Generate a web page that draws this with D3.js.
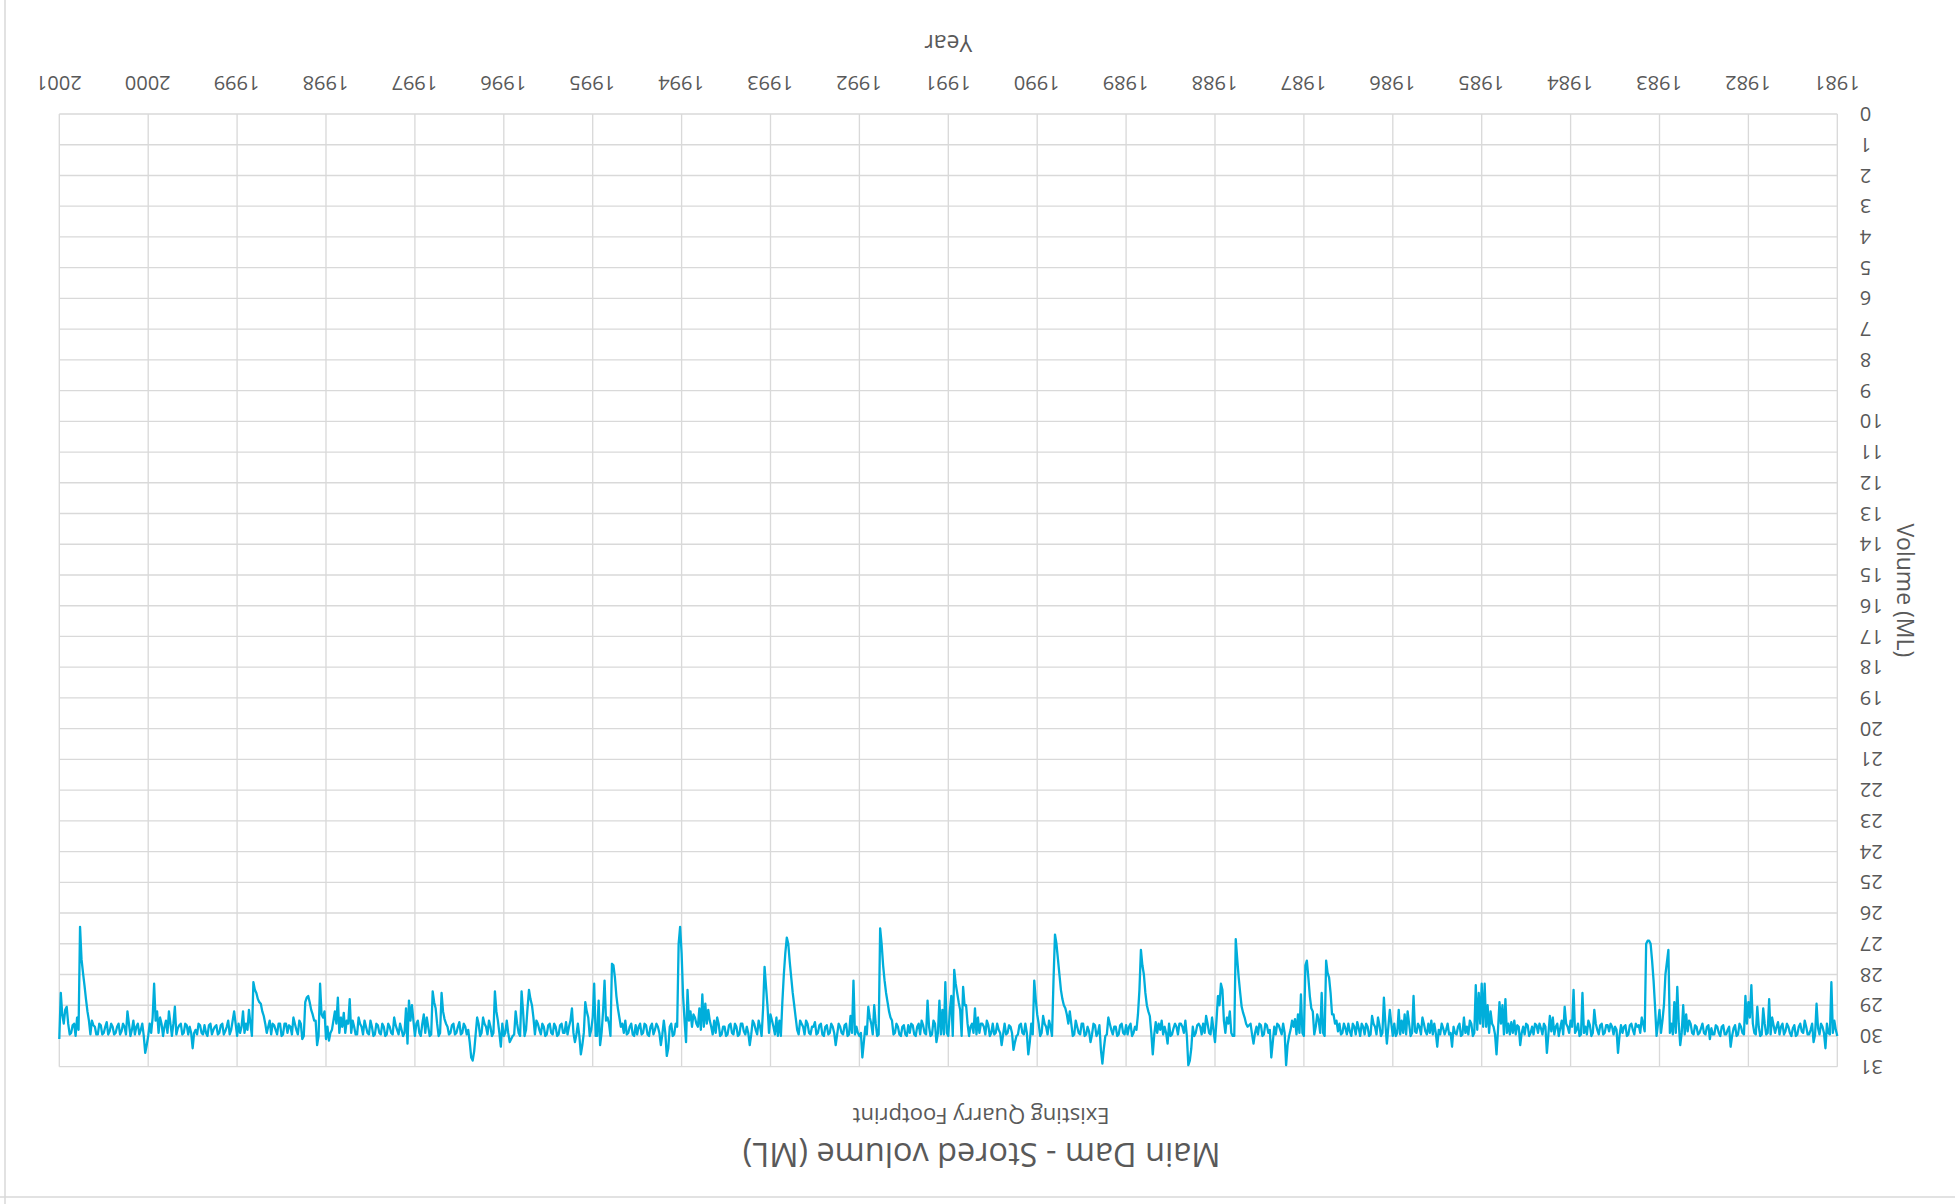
<!DOCTYPE html>
<html><head><meta charset="utf-8">
<script src="https://cdn.jsdelivr.net/npm/d3@7"></script>
<style>html,body{margin:0;padding:0;background:#fff;} svg{display:block;}</style>
</head><body>
<svg id="chart" width="1955" height="1204"></svg>
<script>
// ---- Data ----
const chartTitle = "Main Dam - Stored volume (ML)";
const chartSubtitle = "Existing Quarry Footprint";
const xAxisTitle = "Year";
const yAxisTitle = "Volume (ML)";
const yearTicks = [1981,1982,1983,1984,1985,1986,1987,1988,1989,1990,1991,1992,1993,1994,1995,1996,1997,1998,1999,2000,2001];
const volumeTicks = [0,1,2,3,4,5,6,7,8,9,10,11,12,13,14,15,16,17,18,19,20,21,22,23,24,25,26,27,28,29,30,31];
const samplesPerYear = 30;

// readings at year + k/30
const vol1981 = [30.0,29.5,28.25,29.9,30.4,29.7,29.95,28.95,30.2,29.8,29.95,29.5,29.85,29.7,30.0,29.75,29.9,29.6,29.95,29.7,29.55,29.9,29.4,28.8,29.95,29.1,30.0,29.05,29.9,28.35];
const vol1982 = [28.9,28.7,29.9,29.6,30.0,29.75,30.35,29.8,29.95,29.7,29.9,29.65,29.95,30.1,29.7,29.9,29.75,29.95,29.65,29.9,29.5,29.3,29.0,30.3,28.4,28.9,29.6,27.2,28.0,29.5];
const vol1983 = [29.15,30.0,28.2,27.0,26.9,29.85,29.4,29.65,29.6,29.8,29.65,30.0,29.7,29.65,30.55,29.7,29.7,29.85,29.65,29.95,29.65,29.8,29.15,30.0,29.5,29.7,28.6,30.0,29.8,28.5];
const vol1984 = [29.5,29.7,29.05,29.5,30.0,29.7,29.4,29.35,30.55,29.6,29.75,29.9,29.6,29.7,30.0,29.6,29.7,30.3,29.65,29.5,29.55,29.6,28.8,29.0,28.9,30.6,29.7,29.2,29.0,28.3];
const vol1985 = [28.3,28.6,28.35,30.0,29.5,29.7,29.4,30.0,29.7,29.9,30.35,29.95,29.8,29.75,29.95,30.35,29.6,29.5,29.6,29.85,29.4,29.7,29.9,28.7,30.0,29.2,29.3,29.5,29.15,30.0];
const vol1986 = [30.0,29.15,30.25,28.75,30.0,29.4,29.7,29.35,30.0,29.6,29.7,30.0,29.55,29.7,30.0,29.6,29.75,29.9,29.6,29.5,29.3,28.6,27.95,30.0,28.6,29.5,29.7,29.2,28.7,27.55];
const vol1987 = [30.0,28.65,29.3,29.45,29.5,30.0,30.95,29.6,29.8,29.6,29.7,30.7,29.9,29.6,30.0,29.6,29.7,30.25,29.6,29.7,29.4,29.05,28.1,26.85,30.0,29.2,29.4,29.5,28.3,28.7];
const vol1988 = [30.2,29.4,29.9,29.35,29.6,29.7,29.65,30.0,30.4,30.95,29.5,29.7,29.6,29.7,29.75,30.0,30.25,29.7,29.5,29.6,29.55,30.6,29.35,29.0,28.0,27.2,29.3,29.7,30.0,29.7];
const vol1989 = [29.65,29.9,29.65,30.0,29.7,29.8,29.4,30.0,30.9,29.65,30.0,29.6,30.2,29.7,30.0,29.6,29.9,29.5,30.0,29.2,29.3,29.0,28.5,27.5,26.7,30.0,29.5,29.7,29.35,30.0];
const vol1990 = [29.3,28.2,29.6,30.6,29.6,29.9,29.65,30.0,30.45,29.7,29.9,29.6,30.3,29.8,29.9,29.6,30.0,29.5,29.7,29.6,29.4,29.1,29.6,30.0,29.0,28.4,29.15,28.6,27.85,28.7];
const vol1991 = [30.0,28.25,29.15,28.85,30.2,29.5,30.0,28.85,29.9,29.5,29.6,30.0,29.65,29.9,30.0,29.65,30.0,29.7,29.9,29.5,29.2,28.6,27.7,26.5,30.0,29.0,29.6,29.05,29.7,30.7];
const vol1992 = [30.0,29.7,28.2,29.35,30.0,29.65,29.9,29.6,30.3,29.7,29.9,29.65,30.0,29.6,29.9,29.55,29.7,29.9,29.5,29.7,29.5,29.8,29.0,28.1,27.0,27.3,28.9,29.5,29.4,29.7];
const vol1993 = [29.3,29.05,27.75,30.0,29.5,29.8,29.5,30.3,29.7,29.85,29.6,30.0,29.6,29.9,29.65,30.0,29.7,30.0,29.4,29.5,29.7,29.15,28.95,28.65,29.1,29.6,29.3,29.2,28.5,29.5];
const vol1994 = [27.3,27.0,29.6,30.0,29.7,30.65,29.5,30.3,29.7,29.8,29.6,30.0,29.65,29.9,29.6,29.95,30.0,29.6,29.9,29.5,29.6,29.4,28.7,27.7,30.0,29.4,28.2,29.9,28.85,30.0];
const vol1995 = [29.4,30.0,29.2,29.9,30.6,29.6,30.2,29.1,29.7,29.55,29.9,29.65,30.0,29.6,29.9,29.65,30.0,29.6,29.8,29.5,29.4,28.8,29.1,30.0,28.55,29.9,29.2,30.0,30.2,29.5];
const vol1996 = [30.0,30.35,29.5,28.55,30.0,29.5,29.7,29.4,30.0,29.4,30.5,30.7,29.8,29.7,29.9,29.55,29.9,29.6,29.9,29.7,29.45,28.6,30.0,29.1,28.55,30.0,29.4,29.3,30.0,29.5];
const vol1997 = [30.0,29.0,28.85,29.1,30.0,29.6,29.8,29.4,29.9,29.6,30.0,29.6,29.9,29.6,30.0,29.5,29.9,29.5,29.7,29.4,29.95,29.5,28.8,29.5,29.25,29.4,28.75,29.2,29.8,30.15];
const vol1998 = [30.1,29.4,28.3,30.3,29.5,29.15,28.7,28.9,30.1,29.5,29.8,29.4,29.7,29.9,29.6,30.0,29.6,29.8,29.6,29.5,29.9,29.35,28.95,28.8,28.5,30.0,29.15,29.6,29.2,29.9];
const vol1999 = [30.0,29.2,29.8,29.5,29.85,29.6,29.9,29.65,29.8,29.6,30.0,29.65,29.9,29.6,29.8,30.4,29.7,29.65,29.9,29.6,29.75,29.05,30.0,29.2,29.5,30.0,29.4,29.2,28.3,29.9];
const vol2000 = [30.0,30.55,29.6,29.95,29.7,29.5,30.0,29.2,29.7,29.85,29.6,29.9,29.7,29.85,29.55,29.9,29.65,29.95,29.7,29.5,29.5,28.8,27.95,26.45,29.4,29.6,29.9,29.6,29.15,29.3];
const volEnd2001 = 30.1;

// readings half-way between the above, at year + (k + 0.5)/30
const mid1981 = [29.8,29.9,29.95,29.6,29.9,29.6,29.75,29.95,29.6,29.95,29.7,29.9,29.6,29.95,29.65,30.0,29.7,29.85,29.6,29.95,29.7,29.65,29.95,29.9,29.6,29.95,29.7,29.95,29.6,29.4];
const mid1982 = [29.6,29.95,29.7,29.95,29.65,30.0,29.7,29.95,29.65,30.0,29.7,29.95,29.75,29.65,29.95,29.6,29.9,29.7,29.95,29.6,29.85,29.95,29.9,29.6,29.9,29.95,29.9,27.6,29.0,29.9];
const mid1983 = [29.6,29.05,27.55,26.9,27.0,29.6,29.9,29.7,29.95,29.6,29.95,29.65,29.9,30.0,29.8,29.95,29.6,29.65,29.9,29.6,29.95,29.6,29.9,29.65,29.95,29.9,29.95,29.6,29.9,29.7];
const mid1984 = [29.9,29.6,29.95,29.75,29.6,29.95,29.85,29.95,29.7,29.95,29.6,29.65,29.95,29.9,29.65,29.95,29.9,29.7,29.95,29.9,29.95,29.9,29.95,29.6,29.8,29.95,29.6,29.9,29.7,29.7];
const mid1985 = [29.6,29.8,29.9,29.6,29.95,29.9,29.95,29.6,29.95,29.7,29.9,29.6,29.95,29.6,29.8,29.9,29.95,29.9,29.95,29.6,29.95,29.6,29.85,29.9,29.6,29.95,29.9,29.95,29.9,29.6];
const mid1986 = [29.6,29.7,29.6,29.9,29.65,29.95,29.6,29.95,29.7,29.95,29.6,29.75,29.95,29.6,29.85,29.95,29.6,29.95,29.85,29.6,29.3,28.1,27.55,29.9,29.9,29.3,29.95,29.1,28.1,27.7];
const mid1987 = [29.9,29.9,29.95,29.7,29.8,30.3,29.9,29.95,29.65,29.95,30.2,29.8,29.65,29.95,29.65,29.95,29.9,29.95,29.65,29.6,29.25,28.6,27.5,30.0,29.9,29.6,29.9,28.5,29.0,29.5];
const mid1988 = [29.8,29.95,29.6,29.9,29.95,29.6,29.9,29.7,30.8,30.0,29.9,29.6,29.95,29.6,29.95,29.6,29.9,29.95,29.8,29.9,29.95,29.9,29.2,28.6,27.7,28.5,29.8,29.9,29.6,29.95];
const mid1989 = [29.95,29.6,29.95,29.7,29.95,29.6,29.95,30.4,30.45,29.9,29.65,29.95,29.85,29.95,29.6,29.95,29.7,29.95,29.6,29.6,29.1,28.8,28.0,27.0,28.2,29.7,29.95,29.6,29.9,29.6];
const mid1990 = [28.8,29.95,30.2,29.9,29.95,29.6,29.95,30.2,29.9,29.65,29.95,29.95,29.9,29.6,29.95,29.9,29.65,29.95,29.6,29.9,29.95,29.9,29.7,29.6,29.0,30.0,28.9,28.3,30.0,29.2];
const mid1991 = [29.9,29.95,29.95,29.9,29.6,29.95,29.7,29.95,29.65,29.95,29.7,29.95,29.6,29.65,29.95,29.7,29.95,29.6,29.95,29.4,28.9,28.2,27.0,29.95,29.6,29.95,29.4,29.95,30.2,29.9];
const mid1992 = [29.9,29.95,29.9,29.95,29.6,29.95,29.7,29.95,29.9,29.6,29.95,29.7,29.95,29.65,29.95,29.7,29.95,29.6,29.95,29.6,29.95,29.4,28.6,27.6,26.8,28.0,30.0,30.0,29.95,29.5];
const mid1993 = [29.9,28.4,29.1,29.7,29.95,29.6,29.95,29.9,29.95,29.6,29.95,29.7,29.95,29.6,29.95,29.7,29.95,29.6,29.9,29.95,29.5,29.6,29.7,29.8,29.7,29.4,29.7,29.5,30.2,28.7];
const mid1994 = [26.45,29.7,29.95,29.6,30.4,29.9,29.95,29.9,29.6,29.95,29.7,29.95,29.6,29.95,29.7,29.65,29.95,29.7,29.95,29.9,29.7,29.1,28.1,27.65,29.6,29.5,29.2,30.3,30.0,28.3];
const mid1995 = [29.8,29.4,28.9,30.3,30.0,29.95,29.9,29.5,29.95,29.9,29.6,29.95,29.7,29.95,29.6,29.95,29.7,29.95,29.6,29.95,29.0,28.5,29.8,29.2,30.0,29.6,29.95,30.1,29.9,29.9];
const mid1996 = [29.6,29.9,29.2,29.9,29.7,29.95,29.6,29.9,29.6,29.95,30.8,30.2,29.95,29.6,29.95,29.7,29.95,29.65,29.95,29.6,29.2,29.9,29.6,28.9,29.95,29.7,29.9,29.6,29.9,29.6];
const mid1997 = [29.5,29.5,30.25,29.9,29.8,29.95,29.65,29.95,29.7,29.95,29.7,29.95,29.65,29.95,29.7,29.95,29.7,29.95,29.6,29.95,29.7,29.9,29.6,29.9,29.7,29.9,29.6,29.5,29.9,29.7];
const mid1998 = [29.2,29.3,30.0,29.5,29.3,28.9,28.75,30.0,29.6,29.95,29.6,29.95,29.65,29.6,29.95,29.6,29.95,29.65,29.95,29.7,29.6,29.2,28.9,28.6,28.25,29.6,29.8,29.9,29.7,29.6];
const mid1999 = [29.6,29.5,29.95,29.7,29.95,29.65,29.95,29.7,29.95,29.65,29.9,29.95,29.65,29.95,29.9,29.9,29.95,29.6,29.95,29.65,29.95,29.6,29.6,29.9,29.7,29.6,29.9,29.5,29.4,29.6];
const mid2000 = [30.3,30.0,29.8,29.6,29.95,29.8,29.6,29.95,29.6,29.95,29.7,29.95,29.6,29.95,29.7,29.95,29.6,29.95,29.65,29.95,29.2,28.35,27.5,29.8,30.0,29.65,29.95,29.05,29.6,28.6];

const yearlyVolumes = [vol1981,vol1982,vol1983,vol1984,vol1985,vol1986,vol1987,vol1988,vol1989,vol1990,
  vol1991,vol1992,vol1993,vol1994,vol1995,vol1996,vol1997,vol1998,vol1999,vol2000];
const yearlyMidVolumes = [mid1981,mid1982,mid1983,mid1984,mid1985,mid1986,mid1987,mid1988,mid1989,mid1990,
  mid1991,mid1992,mid1993,mid1994,mid1995,mid1996,mid1997,mid1998,mid1999,mid2000];

const series = [];
yearlyVolumes.forEach((arr, i) => {
  const yr = yearTicks[i];
  arr.forEach((v, k) => {
    series.push({t: yr + k / samplesPerYear, v: v});
    series.push({t: yr + (k + 0.5) / samplesPerYear, v: yearlyMidVolumes[i][k]});
  });
});
series.push({t: yearTicks[yearTicks.length - 1], v: volEnd2001});

// ---- Layout (chart drawn upright, then the whole picture is turned 180 degrees) ----
const W = 1955, H = 1204;
const plot = {left: 117.7, right: 1895.7, top: 137.3, bottom: 1090};
const textColor = "#595959";
const gridColor = "#D9D9D9";
const font = "'Open Sans', 'Noto Sans', sans-serif";

const svg = d3.select("#chart");
const root = svg.append("g").attr("transform", `rotate(180 ${W/2} ${H/2})`);

const x = d3.scaleLinear().domain([yearTicks[0], yearTicks[yearTicks.length-1]]).range([plot.left, plot.right]);
const y = d3.scaleLinear().domain([volumeTicks[0], volumeTicks[volumeTicks.length-1]]).range([plot.bottom, plot.top]);

// chart-area border (only the visible edges)
root.append("line").attr("x1", 0).attr("x2", W).attr("y1", 7).attr("y2", 7)
  .attr("stroke", gridColor).attr("stroke-width", 1.5);
root.append("line").attr("x1", 1950).attr("x2", 1950).attr("y1", 0).attr("y2", H)
  .attr("stroke", gridColor).attr("stroke-width", 1.5);

// gridlines
const grid = root.append("g");
grid.selectAll("line.h").data(volumeTicks).join("line").attr("class", "h")
  .attr("x1", plot.left).attr("x2", plot.right)
  .attr("y1", d => y(d)).attr("y2", d => y(d))
  .attr("stroke", gridColor).attr("stroke-width", 1.33);
grid.selectAll("line.v").data(yearTicks).join("line").attr("class", "v")
  .attr("y1", plot.top).attr("y2", plot.bottom)
  .attr("x1", d => x(d)).attr("x2", d => x(d))
  .attr("stroke", gridColor).attr("stroke-width", 1.33);

// axes
const xAxis = root.append("g").attr("transform", `translate(0,${plot.bottom})`)
  .call(d3.axisBottom(x).tickValues(yearTicks).tickFormat(d3.format("d")).tickSize(0).tickPadding(23.5));
const yAxis = root.append("g").attr("transform", `translate(${plot.left},0)`)
  .call(d3.axisLeft(y).tickValues(volumeTicks).tickFormat(d3.format("d")).tickSize(0).tickPadding(22.5));
[xAxis, yAxis].forEach(a => {
  a.select(".domain").remove();
  a.selectAll("text").attr("fill", textColor).style("font-family", font).style("font-size", "20px");
});

// line
const line = d3.line().x(d => x(d.t)).y(d => y(d.v));
root.append("path").datum(series).attr("d", line)
  .attr("fill", "none").attr("stroke", "#00AEDB").attr("stroke-width", 2.3)
  .attr("stroke-linejoin", "round");

// titles
root.append("text").text(chartTitle).attr("x", 973.5).attr("y", 61.3)
  .attr("text-anchor", "middle").attr("fill", textColor)
  .style("font-family", font).style("font-size", "32.5px");
root.append("text").text(chartSubtitle).attr("x", 974).attr("y", 96)
  .attr("text-anchor", "middle").attr("fill", textColor)
  .style("font-family", font).style("font-size", "22px");
root.append("text").text(xAxisTitle).attr("x", (plot.left + plot.right) / 2).attr("y", 1169)
  .attr("text-anchor", "middle").attr("fill", textColor)
  .style("font-family", font).style("font-size", "23px");
root.append("text").text(yAxisTitle)
  .attr("transform", `translate(58.5,${(plot.top + plot.bottom) / 2}) rotate(-90)`)
  .attr("text-anchor", "middle").attr("fill", textColor)
  .style("font-family", font).style("font-size", "23px");
</script>
</body></html>
